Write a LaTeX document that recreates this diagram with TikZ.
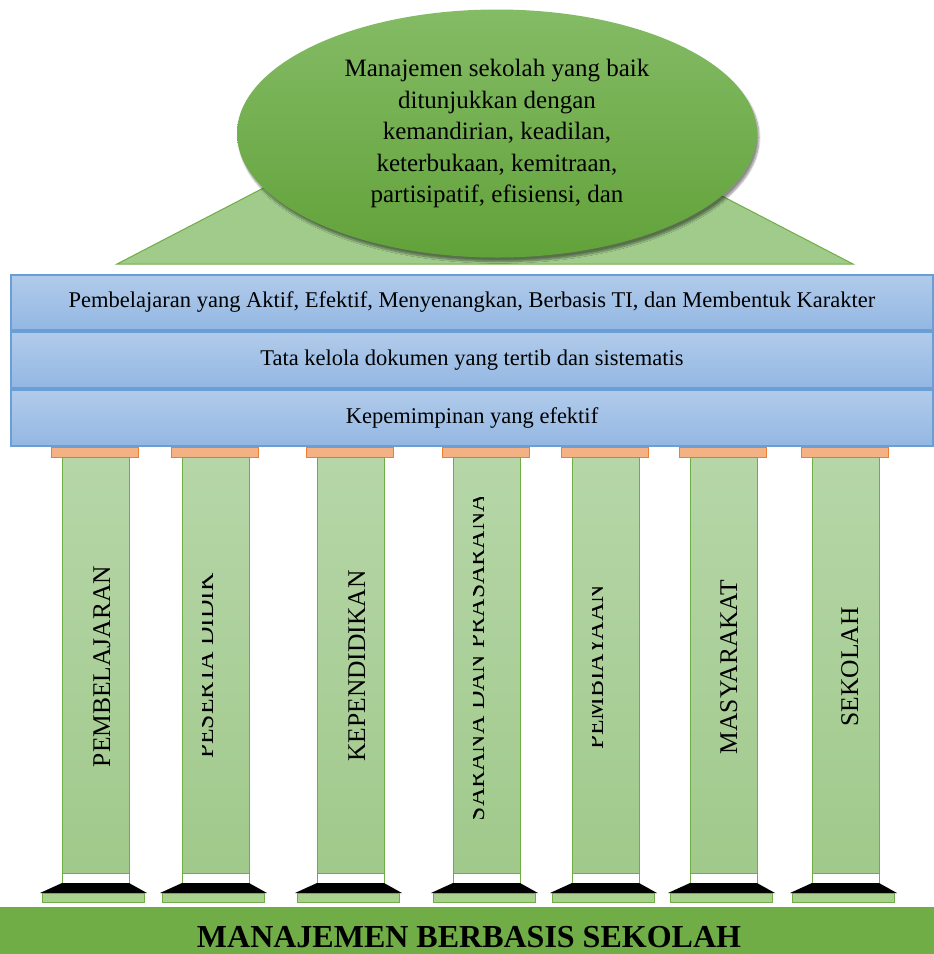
\documentclass[tikz,border=0pt]{standalone}
\usepackage{fontspec}
\setmainfont{Liberation Serif}
\usetikzlibrary{shapes.geometric,shadows.blur}
\definecolor{gborder}{HTML}{70AD47}
\definecolor{gtop}{HTML}{B6D6A8}
\definecolor{gbot}{HTML}{A0C98B}
\definecolor{btop}{HTML}{B1CBEA}
\definecolor{bbot}{HTML}{93B7E3}
\definecolor{bborder}{HTML}{6A9FD6}
\definecolor{capfill}{HTML}{F4B183}
\definecolor{capborder}{HTML}{ED7D31}
\definecolor{eltop}{HTML}{84BB65}
\definecolor{elbot}{HTML}{62A23A}
\definecolor{trifill}{HTML}{A0CB8B}
\definecolor{plate}{HTML}{A9D18E}
\begin{document}
\begin{tikzpicture}[x=1pt,y=-1pt,
  barbox/.style={draw=bborder,line width=1.2pt,top color=btop,bottom color=bbot,
    minimum width=922pt,inner sep=0pt,font=\fontsize{22.5}{27}\selectfont,
    text height=15.4pt,text depth=4.9pt},
  capbox/.style={draw=capborder,line width=1pt,fill=capfill,minimum width=87pt,
    minimum height=10pt,inner sep=0pt},
  colbox/.style={draw=gborder,line width=1pt,top color=gtop,bottom color=gbot,
    minimum width=67pt,minimum height=416pt,inner sep=0pt},
  bandbox/.style={draw=gborder,line width=1pt,fill=white,minimum width=67pt,
    minimum height=10pt,inner sep=0pt},
  platebox/.style={draw=gborder,line width=0.8pt,fill=plate,minimum width=102pt,
    minimum height=9pt,inner sep=0pt},
  coltext/.style={font=\fontsize{25.5}{30}\selectfont,inner sep=0pt,anchor=base,rotate=90}
]
\useasboundingbox (0,0) rectangle (934,954);

% roof triangle and ellipse
\filldraw[fill=trifill,draw=gborder,line width=1pt] (117,264) -- (485,73) -- (853,264) -- cycle;
\node[ellipse,minimum width=520pt,minimum height=248pt,inner sep=0pt,
  top color=eltop,bottom color=elbot,
  blur shadow={shadow xshift=2pt,shadow yshift=-4pt,shadow blur steps=10,shadow opacity=45},
  align=center,font=\fontsize{25}{31.5}\selectfont] (ell) at (497,133.5)
  {Manajemen sekolah yang baik\\ditunjukkan dengan\\kemandirian, keadilan,\\keterbukaan, kemitraan,\\partisipatif, efisiensi, dan};

% beams
\node[barbox,minimum height=55pt] (bar1) at (472,302.5)
  {Pembelajaran yang Aktif, Efektif, Menyenangkan, Berbasis TI, dan Membentuk Karakter};
\node[barbox,minimum height=56pt] (bar2) at (472,360)
  {Tata kelola dokumen yang tertib dan sistematis};
\node[barbox,minimum height=56pt] (bar3) at (472,418)
  {Kepemimpinan yang efektif};

% pillars
\foreach \L [count=\i] in {62,182,317,453,572,690,812}{
  \node[capbox] (cap\i) at ({\L+32.5},452) {};
  \node[colbox] (col\i) at ({\L+33.5},665) {};
  \node[bandbox] (band\i) at ({\L+33.5},878) {};
  \fill[black] (\L,883) -- ({\L+67},883) -- ({\L+85},893) -- ({\L-22},893) -- cycle;
  \node[platebox] (plate\i) at ({\L+31.8},897.5) {};
}

% pillar labels
\node[coltext] (t1) at (110,666.5) {PEMBELAJARAN};
\begin{scope}
  \clip (202,457) rectangle (249,873);
  \node[coltext] (t2) at (213,666) {PESERTA DIDIK};
\end{scope}
\node[coltext] (t3) at (365,666) {KEPENDIDIKAN};
\begin{scope}
  \clip (473,497) rectangle (519,818);
  \node[coltext] (t4) at (484,657.5) {SARANA DAN PRASARANA};
\end{scope}
\begin{scope}
  \clip (592,457) rectangle (639,873);
  \node[coltext] (t5) at (603,667.5) {PEMBIAYAAN};
\end{scope}
\node[coltext] (t6) at (737,667) {MASYARAKAT};
\node[coltext] (t7) at (858,667) {SEKOLAH};

% foundation
\fill[gborder] (0,907) rectangle (934,954);
\node[anchor=base,inner sep=0pt,font=\fontsize{32}{36}\selectfont\bfseries] (title) at (469,947)
  {MANAJEMEN BERBASIS SEKOLAH};
\end{tikzpicture}
\end{document}
